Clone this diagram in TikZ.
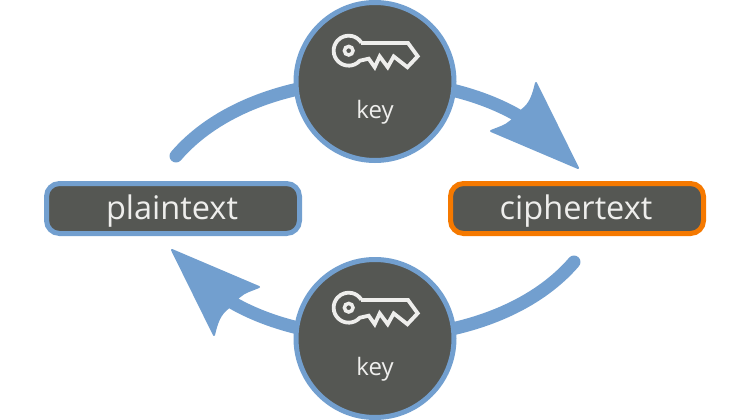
\documentclass[tikz,border=0pt]{standalone}
\usepackage{fontspec}
\setmainfont{Open Sans}
\definecolor{flowblue}{HTML}{729FCF}
\definecolor{boxgrey}{HTML}{555753}
\definecolor{cipherorange}{HTML}{F57900}
\definecolor{labelwhite}{HTML}{EEEEEC}
\tikzset{
	textbox/.style={draw=flowblue, fill=boxgrey, line width=5pt, rounded corners=13pt, minimum width=253pt, minimum height=50pt, inner sep=0pt, text=labelwhite, font=\fontsize{32.5}{36}\selectfont},
	keydisc/.style={circle, draw=flowblue, fill=boxgrey, line width=5pt, minimum size=158pt, inner sep=0pt},
	keytext/.style={text=labelwhite, inner sep=0pt, font=\fontsize{24}{26}\selectfont},
	flowline/.style={draw=flowblue, line width=13pt, line cap=round},
	flowhead/.style={fill=flowblue, draw=flowblue, line width=2pt, line join=round},
	keyicon/.pic={
		\draw[labelwhite, line width=3.8pt, line join=miter] (12.5,-7.7) -- (59.3,-7.7) -- (69,5.6) -- (58.7,16.5) -- (45,5.7) -- (39,16.5) -- (31,5.7) -- (26,16.5) -- (20,8) -- (11.1,10) arc (42:328:15);
		\draw[labelwhite, line width=3.5pt] (0,0) circle (4.3);
	}
}
\begin{document}
\begin{tikzpicture}[x=1pt, y=-1pt]
	\useasboundingbox (0,0) rectangle (750,420);

	\coordinate (plainend) at (176,156);
	\coordinate (toptip) at (578,168);
	\coordinate (topback) at (517,115);
	\coordinate (cipherend) at (574,262);
	\coordinate (bottomtip) at (172,250);
	\coordinate (bottomback) at (233,303);

	\draw[flowline] (plainend) .. controls (250,70) and (420,60) .. (topback);
	\draw[flowline] (cipherend) .. controls (500,348) and (330,358) .. (bottomback);

	\filldraw[flowhead] (toptip) -- (536,83) .. controls (533,96) and (530,104) .. (522,110) -- (511,121) .. controls (506,126) and (498,128) .. (491,131) -- cycle;
	\filldraw[flowhead] (bottomtip) -- (214,335) .. controls (217,322) and (220,314) .. (228,308) -- (239,297) .. controls (244,292) and (252,290) .. (259,287) -- cycle;

	\node[textbox] (plaintext) at (173,208.5) {\hspace{-2pt}\raisebox{-11pt}[0pt][0pt]{plaintext}};
	\node[textbox, draw=cipherorange] (ciphertext) at (577,208.5) {\hspace{-2pt}\raisebox{-11pt}[0pt][0pt]{ciphertext}};

	\node[keydisc] (topkey) at (375,81.5) {};
	\node[keydisc] (bottomkey) at (375,338.5) {};

	\pic at (348.7,50.7) {keyicon};
	\pic at (348.7,307.7) {keyicon};

	\node[keytext] (toplabel) at (375,112.5) {key};
	\node[keytext] (bottomlabel) at (375,369.5) {key};
\end{tikzpicture}
\end{document}
